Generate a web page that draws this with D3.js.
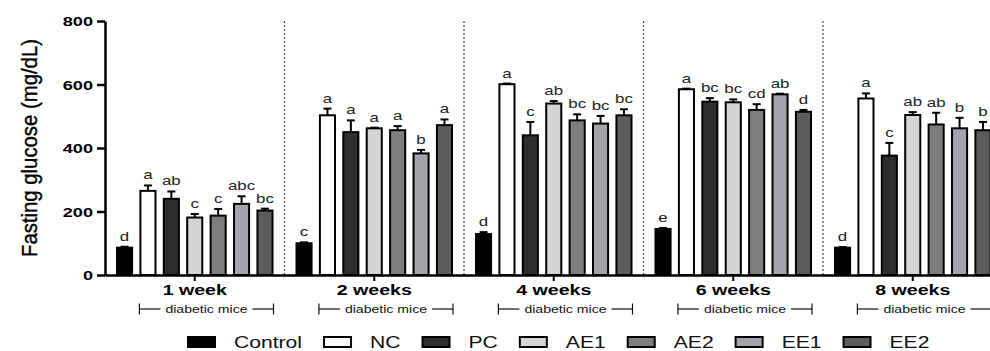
<!DOCTYPE html>
<html>
<head>
<meta charset="utf-8">
<script src="https://cdn.jsdelivr.net/npm/d3@7"></script>
<style>
  html, body { margin: 0; padding: 0; background: #fff; }
  svg { display: block; }
</style>
</head>
<body>
<div id="chart"></div>
<script>
// data
const weeks = ["1 week", "2 weeks", "4 weeks", "6 weeks", "8 weeks"];
const groups = ["Control", "NC", "PC", "AE1", "AE2", "EE1", "EE2"];
const meanValues = [
  [86, 265, 240, 181, 187, 224, 203],
  [100, 503, 450, 462, 456, 383, 472],
  [129, 601, 440, 540, 487, 477, 503],
  [145, 585, 546, 544, 520, 569, 514],
  [86, 556, 376, 504, 474, 462, 456]
];
const errValues = [
  [3, 17, 23, 11, 21, 24, 6],
  [3, 21, 37, 2, 13, 11, 18],
  [6, 2, 42, 8, 19, 24, 19],
  [3, 2, 11, 9, 18, 2, 6],
  [2, 16, 40, 9, 37, 33, 26]
];
const letters = [
  ["d", "a", "ab", "c", "c", "abc", "bc"],
  ["c", "a", "a", "a", "a", "b", "a"],
  ["d", "a", "c", "ab", "bc", "bc", "bc"],
  ["e", "a", "bc", "bc", "cd", "ab", "d"],
  ["d", "a", "c", "ab", "ab", "b", "b"]
];
const yTicks = [0, 200, 400, 600, 800];
const fills = ["#000000", "#ffffff", "#2e2e2e", "#d4d4d4", "#7e7e7e", "#a3a3a9", "#5c5c5c"];

const W = 990, H = 351;
const margin = {top: 21, left: 105, bottom: 76};
const groupStep = 179.5;
const stretch = 1.4; // the figure is widened horizontally

const svg = d3.select("#chart").append("svg")
  .attr("width", W)
  .attr("height", H);

const x0 = d3.scaleBand()
  .domain(weeks)
  .range([margin.left, margin.left + groupStep * weeks.length])
  .padding(0);

const x1 = d3.scaleBand()
  .domain(groups)
  .range([11, 168.5])
  .paddingInner(0.27)
  .paddingOuter(0);

const y = d3.scaleLinear()
  .domain([0, 800])
  .range([H - margin.bottom, margin.top]);

const font = "'Liberation Sans', Arial, sans-serif";

// dotted separators between weeks
svg.append("g").selectAll("line")
  .data(weeks.slice(1))
  .enter()
  .append("line")
  .attr("x1", d => x0(d))
  .attr("x2", d => x0(d))
  .attr("y1", y(800))
  .attr("y2", y(0))
  .attr("stroke", "#444")
  .attr("stroke-width", 1.2)
  .attr("stroke-dasharray", "2,2");

// bars
const rows = [];
weeks.forEach((w, i) => {
  groups.forEach((g, j) => {
    rows.push({week: w, group: g, mean: meanValues[i][j], err: errValues[i][j], letter: letters[i][j], fill: fills[j]});
  });
});

const bars = svg.append("g");
const bx = d => x0(d.week) + x1(d.group);
const bw = x1.bandwidth();

// error bars (upper whisker only)
bars.selectAll("line.err")
  .data(rows)
  .enter()
  .append("line")
  .attr("class", "err")
  .attr("x1", d => bx(d) + bw / 2)
  .attr("x2", d => bx(d) + bw / 2)
  .attr("y1", d => y(d.mean))
  .attr("y2", d => y(d.mean + d.err))
  .attr("stroke", "#000")
  .attr("stroke-width", 2);
bars.selectAll("line.cap")
  .data(rows)
  .enter()
  .append("line")
  .attr("class", "cap")
  .attr("x1", d => bx(d) + bw / 2 - 4)
  .attr("x2", d => bx(d) + bw / 2 + 4)
  .attr("y1", d => y(d.mean + d.err))
  .attr("y2", d => y(d.mean + d.err))
  .attr("stroke", "#000")
  .attr("stroke-width", 2);

bars.selectAll("rect")
  .data(rows)
  .enter()
  .append("rect")
  .attr("x", d => bx(d) + 1)
  .attr("y", d => y(d.mean))
  .attr("width", bw - 2)
  .attr("height", d => y(0) - y(d.mean))
  .attr("fill", d => d.fill)
  .attr("stroke", "#000")
  .attr("stroke-width", 2);

// significance letters
bars.selectAll("text")
  .data(rows)
  .enter()
  .append("text")
  .attr("transform", d => `translate(${bx(d) + bw / 2},${y(d.mean + d.err) - 6}) scale(1.3,1)`)
  .attr("text-anchor", "middle")
  .attr("font-family", font)
  .attr("font-size", 13)
  .attr("fill", "#222")
  .text(d => d.letter);

// y axis
const yAxis = svg.append("g")
  .attr("transform", `translate(${margin.left},0)`)
  .call(d3.axisLeft(y).tickValues(yTicks).tickSize(8).tickSizeOuter(0));
yAxis.select(".domain").attr("stroke-width", 2.5);
yAxis.selectAll(".tick line").attr("stroke-width", 2.5);
yAxis.selectAll(".tick text")
  .attr("x", null)
  .attr("dy", "0.36em")
  .attr("transform", `translate(-12,0) scale(1.4,1)`)
  .attr("font-family", font)
  .attr("font-weight", "bold")
  .attr("font-size", 13)
  .attr("fill", "#000");

svg.append("text")
  .attr("transform", `translate(37,${(y(800) + y(0)) / 2 - 0}) rotate(-90)`)
  .attr("text-anchor", "middle")
  .attr("font-family", font)
  .attr("font-size", 22)
  .attr("textLength", 218)
  .attr("lengthAdjust", "spacingAndGlyphs")
  .attr("fill", "#000")
  .attr("stroke", "#000")
  .attr("stroke-width", 0.4)
  .text("Fasting glucose (mg/dL)");

// x axis
const xAxis = svg.append("g")
  .attr("transform", `translate(0,${y(0)})`)
  .call(d3.axisBottom(x0).tickSize(6).tickSizeOuter(0));
xAxis.select(".domain").attr("stroke-width", 2.5);
xAxis.selectAll(".tick line").attr("stroke-width", 2);
xAxis.selectAll(".tick text")
  .attr("y", null)
  .attr("dy", null)
  .attr("transform", `translate(0,20) scale(${stretch},1)`)
  .attr("font-family", font)
  .attr("font-weight", "bold")
  .attr("font-size", 14)
  .attr("fill", "#000");

// "diabetic mice" brackets
const brackets = svg.append("g");
weeks.forEach(w => {
  const left = x0(w) + x1("NC");
  const right = x0(w) + x1("EE2") + bw;
  const mid = (left + right) / 2;
  const by = 309;
  const g = brackets.append("g");
  const t = g.append("text")
    .attr("transform", `translate(${mid},${by + 4}) scale(1.28,1)`)
    .attr("text-anchor", "middle")
    .attr("font-family", font)
    .attr("font-size", 11)
    .attr("fill", "#111")
    .text("diabetic mice");
  const half = t.node().getComputedTextLength() * 1.28 / 2 + 5;
  [[left, mid - half], [mid + half, right]].forEach(([a, b]) => {
    g.append("line")
      .attr("x1", a).attr("x2", b)
      .attr("y1", by).attr("y2", by)
      .attr("stroke", "#111").attr("stroke-width", 1.2);
  });
  [left, right].forEach(xx => {
    g.append("line")
      .attr("x1", xx).attr("x2", xx)
      .attr("y1", by - 5.5).attr("y2", by + 5.5)
      .attr("stroke", "#111").attr("stroke-width", 1.2);
  });
});

// legend
const legend = svg.append("g");
let lx = 187;
groups.forEach((g, j) => {
  legend.append("rect")
    .attr("x", lx + 1)
    .attr("y", 337)
    .attr("width", 27)
    .attr("height", 10)
    .attr("fill", fills[j])
    .attr("stroke", "#000")
    .attr("stroke-width", 2);
  const t = legend.append("text")
    .attr("transform", `translate(${lx + 47},347.5) scale(1.32,1)`)
    .attr("font-family", font)
    .attr("font-size", 16)
    .attr("fill", "#111")
    .text(g);
  lx += 47 + t.node().getComputedTextLength() * 1.32 + 21;
});
</script>
</body>
</html>
